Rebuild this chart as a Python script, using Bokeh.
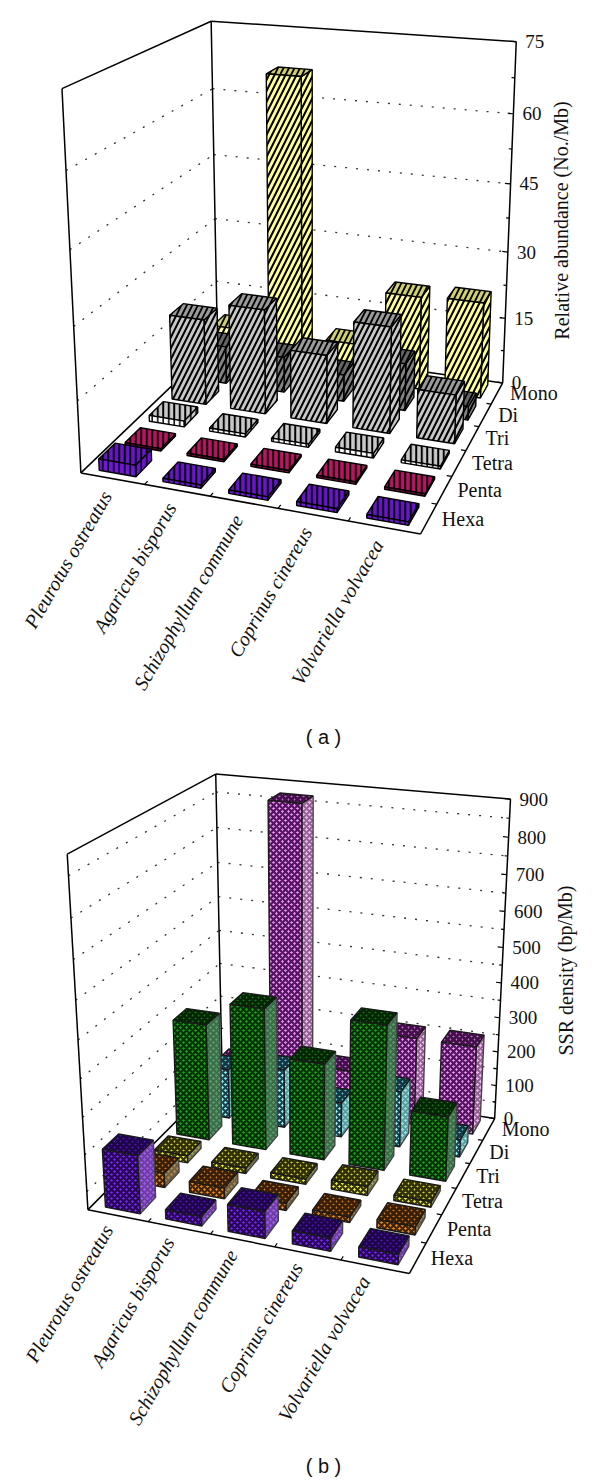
import numpy as np
from bokeh.plotting import figure
from bokeh.models import Range1d, ColumnDataSource
from bokeh.layouts import column
from bokeh.embed import file_html
from bokeh.resources import INLINE
from bokeh.core.properties import value

species = ["Pleurotus ostreatus", "Agaricus bisporus", "Schizophyllum commune", "Coprinus cinereus", "Volvariella volvacea"]
motifs = ["Hexa", "Penta", "Tetra", "Tri", "Di", "Mono"]

# panel (a): relative abundance (No./Mb)
a_hexa = [2.4, 0.7, 0.7, 0.8, 0.7]
a_penta = [0.5, 0.5, 0.5, 0.5, 0.5]
a_tetra = [1.3, 0.7, 0.7, 1.0, 0.6]
a_tri = [19, 23, 15, 23, 10.5]
a_di = [8.5, 8, 6, 10.5, 3]
a_mono = [8, 66.5, 8.3, 21, 21.5]
a_ticks = [0, 15, 30, 45, 60, 75]

# panel (b): SSR density (bp/Mb)
b_hexa = [158, 25, 72, 35, 27]
b_penta = [40, 30, 20, 15, 22]
b_tetra = [20, 15, 15, 25, 15]
b_tri = [332, 400, 272, 403, 180]
b_di = [145, 170, 100, 160, 50]
b_mono = [100, 870, 130, 255, 255]
b_ticks = [0, 100, 200, 300, 400, 500, 600, 700, 800, 900]

SERIF = "Liberation Serif"


def homography(corners):
    rows = []
    for (u, v, w), (x, y) in corners:
        rows.append([u, v, w, 1, 0, 0, 0, 0, -x * u, -x * v, -x * w, -x])
        rows.append([0, 0, 0, 0, u, v, w, 1, -y * u, -y * v, -y * w, -y])
    return np.linalg.svd(np.array(rows, float))[2][-1].reshape(3, 4)


def make_proj(corners):
    M = homography(corners)

    def proj(u, v, w):
        q = M @ np.array([u, v, w, 1.0])
        return q[0] / q[2], q[1] / q[2]
    return proj


def panel(y0, y1, corners, series, styles, zmax, ticks, minor, grids, title, title_y, title_x, caption, cap_y,
          label_off, lab_dx):
    p = figure(width=600, height=y1 - y0, x_range=Range1d(0, 600), y_range=Range1d(y1, y0),
               x_axis_type=None, y_axis_type=None, toolbar_location=None, output_backend="svg",
               min_border=0, outline_line_color=None)
    P = make_proj(corners)

    def seg(a, b, **kw):
        ax, ay = P(*a)
        bx, by = P(*b)
        p.line([ax, bx], [ay, by], **kw)

    # dotted grid on both walls
    for g in grids:
        w = g / zmax
        seg((0, 0, w), (0, 1, w), line_color="#333333", line_width=1.3, line_dash="2 9")
        seg((0, 1, w), (1, 1, w), line_color="#333333", line_width=1.3, line_dash="2 9")
    # box frame
    box = dict(line_color="black", line_width=1.5)
    for a, b in [((0, 0, 0), (1, 0, 0)), ((1, 0, 0), (1, 1, 0)), ((0, 0, 0), (0, 1, 0)), ((0, 1, 0), (1, 1, 0)),
                 ((0, 0, 0), (0, 0, 1)), ((0, 1, 0), (0, 1, 1)), ((1, 1, 0), (1, 1, 1)),
                 ((0, 0, 1), (0, 1, 1)), ((0, 1, 1), (1, 1, 1))]:
        seg(a, b, **box)
    # ticks
    for t in ticks:
        seg((1, 1, t / zmax), (0.982, 1, t / zmax), line_color="black", line_width=1.2)
    for t in minor:
        seg((1, 1, t / zmax), (0.99, 1, t / zmax), line_color="black", line_width=1.2)
    for i in range(1, 5):
        seg((i / 5, 0, 0), (i / 5, 0.02, 0), line_color="black", line_width=1.2)
    for j in range(1, 6):
        seg((1, j / 6, 0), (0.985, j / 6, 0), line_color="black", line_width=1.2)

    # bars, back row first, left to right
    cols = {k: [] for k in ["xs", "ys", "fill", "hatch", "hc", "scale", "weight", "lc"]}

    def face(pts, st):
        xy = [P(*q) for q in pts]
        cols["xs"].append([c[0] for c in xy])
        cols["ys"].append([c[1] for c in xy])
        cols["fill"].append(st[0])
        cols["hatch"].append(st[1])
        cols["hc"].append(st[2])
        cols["scale"].append(st[3])
        cols["weight"].append(st[4])
        cols["lc"].append(st[5])

    du, dv = 0.58 / 5 / 2, 0.62 / 6 / 2
    for j in range(5, -1, -1):
        vc = (j + 0.5) / 6
        for i in range(5):
            uc = (i + 0.5) / 5
            w = series[j][i] / zmax
            fr, sd, tp = styles[j]
            u0, u1, v0, v1 = uc - du, uc + du, vc - dv, vc + dv
            face([(u1, v0, 0), (u1, v1, 0), (u1, v1, w), (u1, v0, w)], sd)
            face([(u0, v0, w), (u1, v0, w), (u1, v1, w), (u0, v1, w)], tp)
            face([(u0, v0, 0), (u1, v0, 0), (u1, v0, w), (u0, v0, w)], fr)
    p.patches("xs", "ys", source=ColumnDataSource(cols), fill_color="fill", hatch_pattern="hatch",
              hatch_color="hc", hatch_scale="scale", hatch_weight="weight", line_color="lc", line_width=1.4)

    # texts
    txt = dict(text_font=value(SERIF), text_color="#111111", text_baseline="middle")
    for t in ticks:
        x, y = P(1, 1, t / zmax)
        p.text([x + lab_dx], [y], text=[str(t)], text_align="left", text_font_size="19px", **txt)
    for j, m in enumerate(motifs):
        x, y = P(1, (j + 0.5) / 6, 0)
        p.text([x + 13], [y], text=[m], text_align="left", text_font_size="20px", **txt)
    for i, s in enumerate(species):
        x, y = P((i + 0.5) / 5, 0, 0)
        p.text([x + label_off[0]], [y + label_off[1]], text=[s], text_align="right", angle=[np.deg2rad(60)],
               text_font_size="20px", text_font_style="italic", **txt)
    p.text([title_x], [title_y], text=[title], text_align="center", angle=[np.pi / 2], text_font_size="20px", **txt)
    p.text([323], [cap_y], text=[caption], text_align="center", text_baseline="middle",
           text_font=value("Liberation Sans"), text_font_size="20px", text_color="#111111")
    return p


def st_line(fill, hatch, hc="black", scale=11, weight=2.0, lc="black"):
    return (fill, hatch, hc, scale, weight, lc)


styles_a = [
    (st_line("#7018D8", "vertical_line", scale=5.5, weight=1.5), st_line("#6A14CC", "vertical_line", scale=5.5, weight=1.5), st_line("#6A14CC", "vertical_line", scale=5.5, weight=2)),
    (st_line("#8A0C48", "vertical_line", scale=5.5, weight=1.5), st_line("#8A0C48", "vertical_line", scale=5.5, weight=1.5), st_line("#BC1464", "vertical_line", scale=5.5, weight=2)),
    (st_line("#FFFFFF", "vertical_line", scale=5.5, weight=1.5), st_line("#C8C8C8", "vertical_line", scale=5.5, weight=1.5), st_line("#C8C8C8", "vertical_line", scale=5.5, weight=2)),
    (st_line("#C8C8C8", "right_diagonal_line"), st_line("#C8C8C8", "right_diagonal_line"), st_line("#9A9A9A", "right_diagonal_line", weight=1.8)),
    (st_line("#848484", "right_diagonal_line"), st_line("#848484", "right_diagonal_line"), st_line("#666666", "right_diagonal_line", weight=1.8)),
    (st_line("#FFFF99", "right_diagonal_line"), st_line("#FFFF99", "right_diagonal_line"), st_line("#D0D070", "right_diagonal_line", weight=1.8)),
]


def st_dots(front, f_lat, side, s_lat, top, t_lat, lc="#1A1A1A"):
    return (st_line(front, "diagonal_cross", f_lat, 6, 2.2, lc),
            st_line(side, "diagonal_cross", s_lat, 6, 1.9, "#444444"),
            st_line(top, "diagonal_cross", t_lat, 6, 2.8, lc))


styles_b = [
    st_dots("#7A22F0", "#240650", "#9A5CE0", "#6A3AA0", "#5A14B8", "#1C0548"),
    st_dots("#E88A20", "#402204", "#A08858", "#6E5A3A", "#C87818", "#381E04"),
    st_dots("#F4F440", "#343404", "#9A9A60", "#6A6A40", "#D8D830", "#303004"),
    st_dots("#1E9E1E", "#043004", "#559A66", "#3A6A48", "#147A14", "#032403"),
    st_dots("#90F8F8", "#1A4050", "#90E0E0", "#5A9A9A", "#60C8C8", "#143644"),
    st_dots("#F290F2", "#4E145C", "#EEB4EE", "#8E5E8E", "#C868CE", "#421048"),
]

corners_a = [((0, 0, 0), (80, 473)), ((1, 0, 0), (420, 533)), ((1, 1, 0), (502, 383)), ((0, 1, 0), (217.5, 341)),
             ((0, 0, 1), (62, 88)), ((1, 1, 1), (516, 41)), ((0, 1, 1), (210, 21))]
corners_b = [((0, 0, 0), (87, 1208)), ((1, 0, 0), (409, 1274)), ((1, 1, 0), (494, 1117)), ((0, 1, 0), (222, 1076)),
             ((0, 0, 1), (67, 854)), ((1, 1, 1), (510, 799)), ((0, 1, 1), (215, 773))]

pa = panel(0, 760, corners_a, [a_hexa, a_penta, a_tetra, a_tri, a_di, a_mono], styles_a, 75, a_ticks,
           [7.5, 22.5, 37.5, 52.5, 67.5], [15, 30, 45, 60], "Relative abundance (No./Mb)", 220, 561, "( a )", 736,
           (-6, 14), 9)
pb = panel(760, 1481, corners_b, [b_hexa, b_penta, b_tetra, b_tri, b_di, b_mono], styles_b, 900, b_ticks,
           [50, 150, 250, 350, 450, 550, 650, 750, 850], [50, 150, 250, 350, 450, 550, 650, 750, 850],
           "SSR density (bp/Mb)", 970, 565, "( b )", 1465, (-10, 11), 9)

page = column(pa, pb, spacing=0)
open("out.html", "w").write(file_html(page, INLINE))
